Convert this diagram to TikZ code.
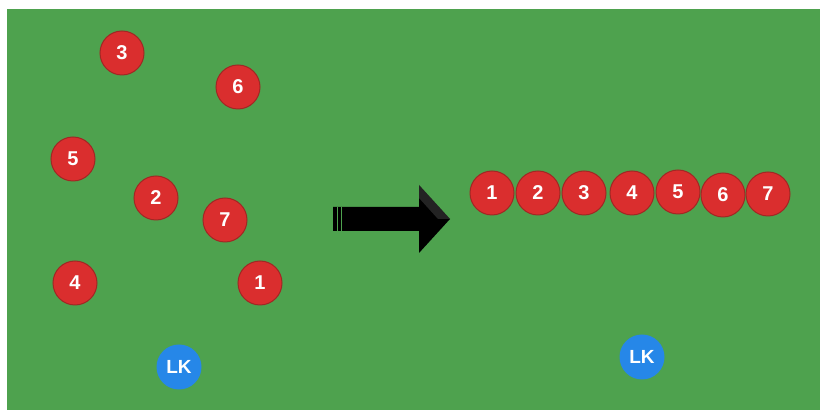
\documentclass[tikz,border=0pt]{standalone}
\usepackage{fontspec}
\setmainfont{Liberation Sans}
\definecolor{field}{RGB}{78,162,78}
\definecolor{pred}{RGB}{218,46,46}
\definecolor{predline}{RGB}{160,40,36}
\definecolor{pblue}{RGB}{38,135,232}
\begin{document}
\begin{tikzpicture}[x=1pt,y=1pt,
  player/.style={circle,fill=pred,draw=predline,line width=1pt,minimum size=44pt,inner sep=0pt,text=white,font=\bfseries\fontsize{20}{20}\selectfont},
  coach/.style={circle,fill=pblue,minimum size=45pt,inner sep=0pt,text=white,font=\bfseries\fontsize{19}{19}\selectfont}]
\useasboundingbox (0,0) rectangle (820,412);
\fill[white] (0,0) rectangle (820,412);
\fill[field] (7,2) rectangle (820,403);
% scattered players
\node[player] (s3) at (122,359) {3};
\node[player] (s6) at (238,325) {6};
\node[player] (s5) at (73,253) {5};
\node[player] (s2) at (156,214) {2};
\node[player] (s7) at (225,192) {7};
\node[player] (s4) at (75,129) {4};
\node[player] (s1) at (260,129) {1};
\node[coach] (lk1) at (179,45) {LK};
% row
\node[player] (r1) at (492,219) {1};
\node[player] (r2) at (538,219) {2};
\node[player] (r3) at (584,219) {3};
\node[player] (r4) at (632,219) {4};
\node[player] (r5) at (678,220) {5};
\node[player] (r6) at (723,217) {6};
\node[player] (r7) at (768,218) {7};
\node[coach] (lk2) at (642,55) {LK};
% arrow
\fill[black] (333,205) -- (419,205) -- (419,227) -- (450,193) -- (419,159) -- (419,181) -- (333,181) -- cycle;
\fill[black!60,opacity=0.35] (419,227) -- (450,193) -- (438,193) -- (419,214) -- cycle;
\draw[field,line width=0.8pt] (337,181) -- (337,205);
\draw[field,line width=0.8pt] (341,181) -- (341,205);
\end{tikzpicture}
\end{document}
